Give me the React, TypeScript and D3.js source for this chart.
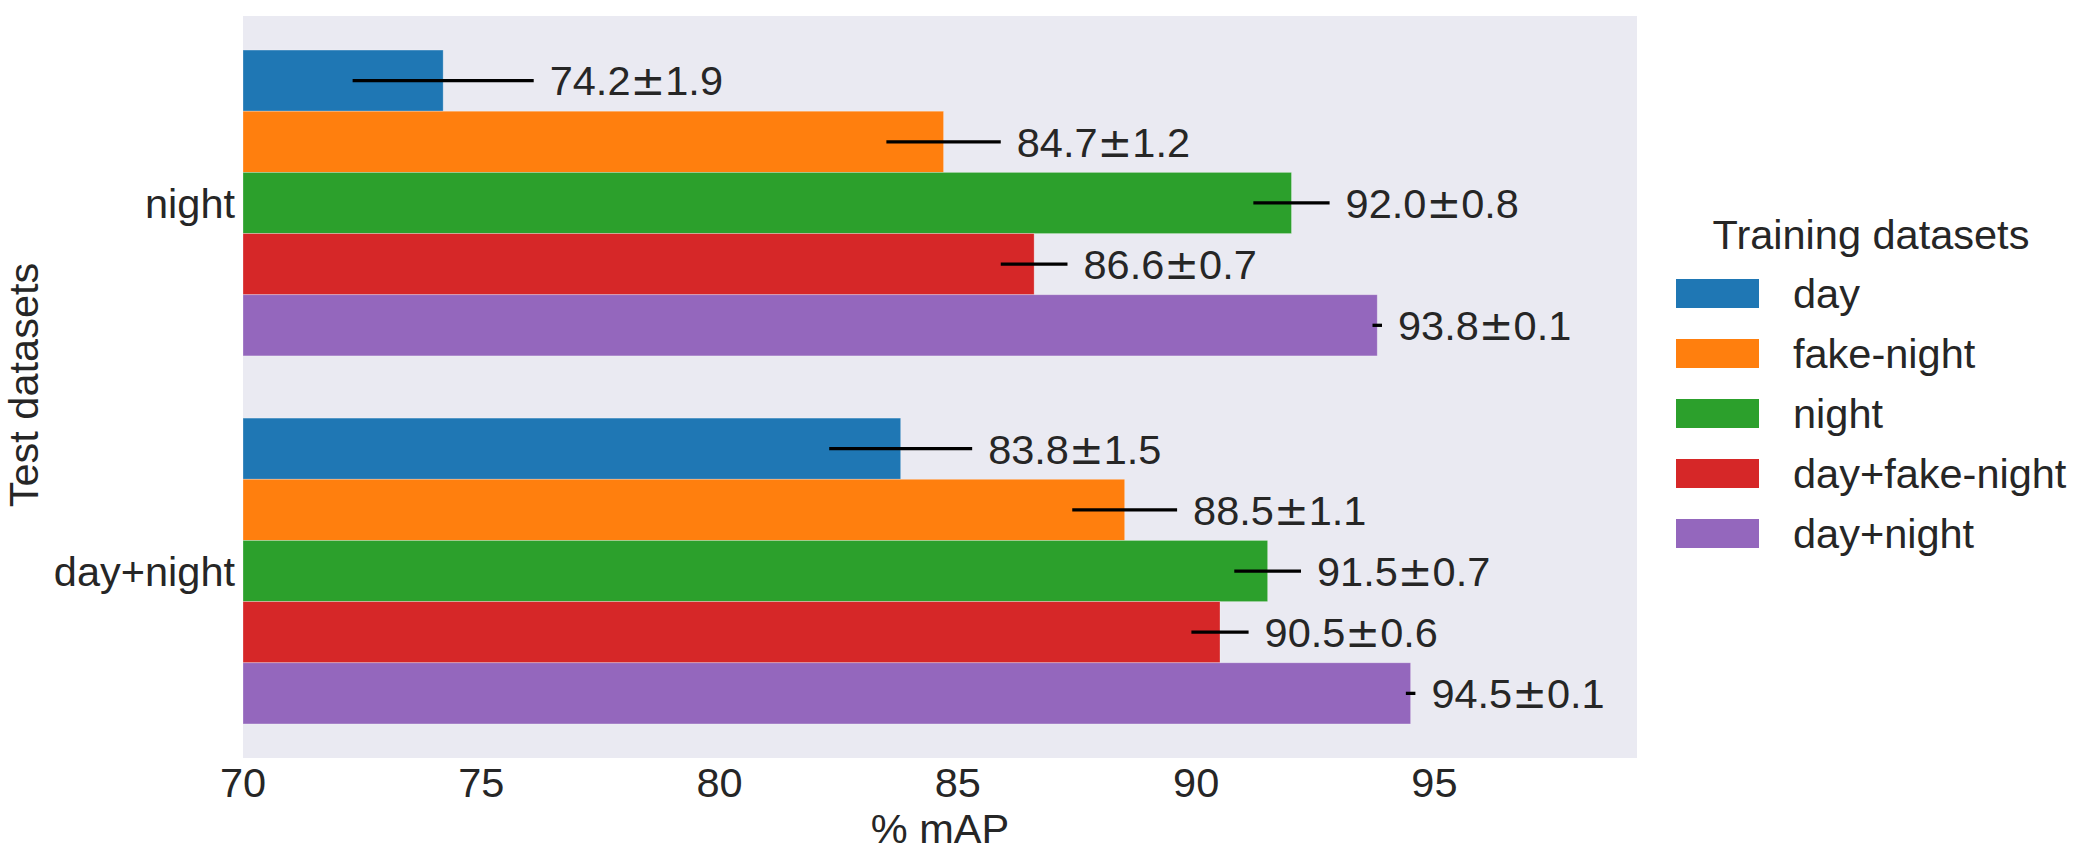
import * as React from 'react'
import { useEffect, useRef } from 'react'
import * as d3 from 'd3'

// test sets on the y axis, training sets as the coloured bars
const testSets = ['night', 'day+night']
const trainSets = ['day', 'fake-night', 'night', 'day+fake-night', 'day+night']
const nightMean = [74.2, 84.7, 92.0, 86.6, 93.8]
const nightStd = [1.9, 1.2, 0.8, 0.7, 0.1]
const dayNightMean = [83.8, 88.5, 91.5, 90.5, 94.5]
const dayNightStd = [1.5, 1.1, 0.7, 0.6, 0.1]
const xTicks = [70, 75, 80, 85, 90, 95]

const colors = ['#1f77b4', '#ff7f0e', '#2ca02c', '#d62728', '#9467bd']
const textColor = '#262626'
const font = '"Liberation Sans", Arial, sans-serif'
const fontSize = 41.5

const W = 2085
const H = 857
const plot = { left: 243, right: 1637, top: 16, bottom: 758 }

const App = () => {
  const ref = useRef<SVGSVGElement | null>(null)

  useEffect(() => {
    const svg = d3.select(ref.current)
    svg.selectAll('*').remove()

    const means = [nightMean, dayNightMean]
    const stds = [nightStd, dayNightStd]

    const x = d3.scaleLinear().domain([70, 99.25]).range([plot.left, plot.right])
    // group centres on a categorical index
    const y = d3.scaleLinear().domain([-0.508, 1.508]).range([plot.top, plot.bottom])
    const groupStep = y(1) - y(0)
    const inner = d3.scaleBand<string>().domain(trainSets)
      .range([-0.4155 * groupStep, 0.4155 * groupStep]).padding(0)

    svg.append('rect')
      .attr('x', plot.left).attr('y', plot.top)
      .attr('width', plot.right - plot.left).attr('height', plot.bottom - plot.top)
      .attr('fill', '#eaeaf2')

    const g = svg.append('g')
    testSets.forEach((t, gi) => {
      trainSets.forEach((s, si) => {
        const m = means[gi][si]
        const sd = stds[gi][si]
        const y0 = y(gi) + (inner(s) as number)
        const bh = inner.bandwidth()
        const cy = y0 + bh / 2
        g.append('rect')
          .attr('x', x(70)).attr('y', y0)
          .attr('width', x(m) - x(70)).attr('height', bh)
          .attr('fill', colors[si])
          .attr('stroke', '#ffffff').attr('stroke-opacity', 0.35).attr('stroke-width', 0.8)
        g.append('line')
          .attr('x1', x(m - sd)).attr('x2', x(m + sd))
          .attr('y1', cy).attr('y2', cy)
          .attr('stroke', '#000').attr('stroke-width', 3.3)
        // the ± sign falls back to DejaVu Sans, which is wider
        const label = g.append('text')
          .attr('x', x(m + sd) + 16).attr('y', cy + fontSize * 0.358)
          .attr('fill', textColor)
          .attr('font-family', font).attr('font-size', fontSize)
        label.append('tspan').text(m.toFixed(1))
        label.append('tspan').attr('font-family', '"DejaVu Sans"').text('±')
        label.append('tspan').text(sd.toFixed(1))
      })
    })

    // x tick labels
    svg.append('g').selectAll('text').data(xTicks).enter().append('text')
      .attr('x', (d) => x(d)).attr('y', plot.bottom + 9 + fontSize * 0.716)
      .attr('text-anchor', 'middle')
      .attr('fill', textColor).attr('font-family', font).attr('font-size', fontSize)
      .text((d) => d)

    // y tick labels
    svg.append('g').selectAll('text').data(testSets).enter().append('text')
      .attr('x', plot.left - 8).attr('y', (d, i) => y(i) + fontSize * 0.358)
      .attr('text-anchor', 'end')
      .attr('fill', textColor).attr('font-family', font).attr('font-size', fontSize)
      .text((d) => d)

    // axis titles
    svg.append('text')
      .attr('x', (plot.left + plot.right) / 2).attr('y', 843)
      .attr('text-anchor', 'middle')
      .attr('fill', textColor).attr('font-family', font).attr('font-size', fontSize)
      .text('% mAP')
    svg.append('text')
      .attr('transform', `translate(38, ${(plot.top + plot.bottom) / 2 - 2}) rotate(-90)`)
      .attr('text-anchor', 'middle')
      .attr('fill', textColor).attr('font-family', font).attr('font-size', fontSize)
      .text('Test datasets')

    // legend
    const legend = svg.append('g')
    legend.append('text')
      .attr('x', 1871).attr('y', 249)
      .attr('text-anchor', 'middle')
      .attr('fill', textColor).attr('font-family', font).attr('font-size', fontSize)
      .text('Training datasets')
    const items = legend.selectAll('g.item').data(trainSets).enter().append('g')
      .attr('transform', (d, i) => `translate(1676, ${279 + i * 60})`)
    items.append('rect')
      .attr('width', 83).attr('height', 29)
      .attr('fill', (d, i) => colors[i])
    items.append('text')
      .attr('x', 117).attr('y', 14.5 + fontSize * 0.358)
      .attr('fill', textColor).attr('font-family', font).attr('font-size', fontSize)
      .text((d) => d)
  }, [])

  return (
    <svg ref={ref} width={W} height={H}
      style={{ position: 'absolute', left: 0, top: 0, background: '#fff' }} />
  )
}

export default App
